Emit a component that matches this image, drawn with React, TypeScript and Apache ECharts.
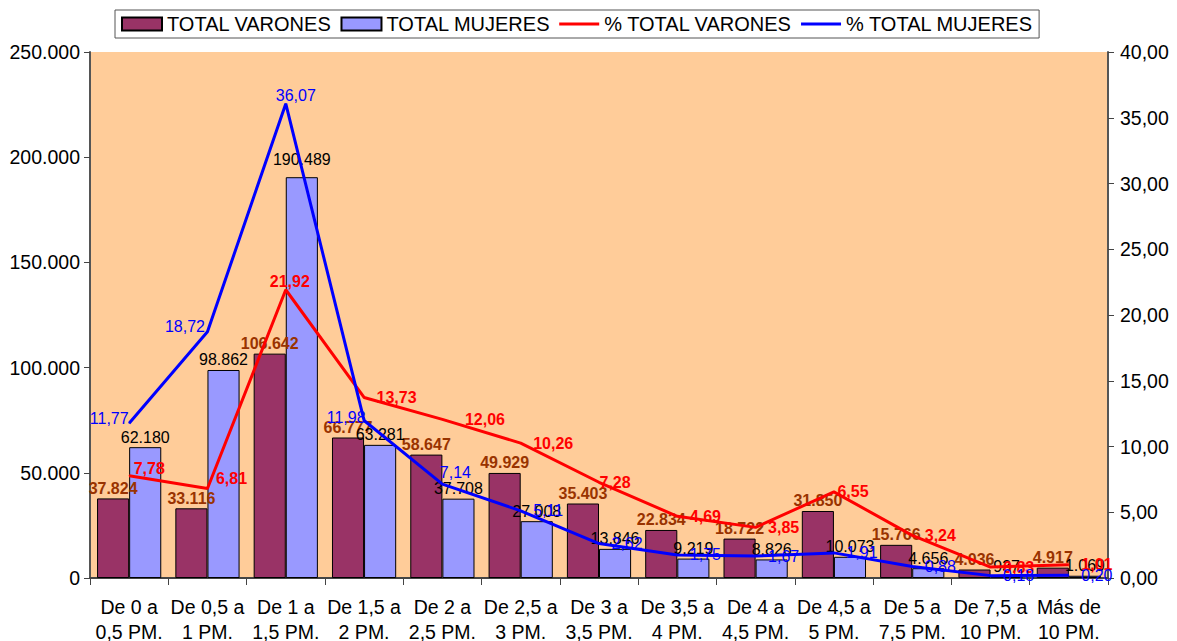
import React, { useEffect, useRef } from "react";
import * as echarts from "echarts";

const categories = [
  "De 0 a\n0,5 PM.", "De 0,5 a\n1 PM.", "De 1 a\n1,5 PM.", "De 1,5 a\n2 PM.",
  "De 2 a\n2,5 PM.", "De 2,5 a\n3 PM.", "De 3 a\n3,5 PM.", "De 3,5 a\n4 PM.",
  "De 4 a\n4,5 PM.", "De 4,5 a\n5 PM.", "De 5 a\n7,5 PM.", "De 7,5 a\n10 PM.",
  "Más de\n10 PM.",
];
const totalVarones = [37824, 33116, 106642, 66777, 58647, 49929, 35403, 22834, 18722, 31850, 15766, 4036, 4917];
const totalMujeres = [62180, 98862, 190489, 63281, 37708, 27008, 13846, 9219, 8826, 10073, 4656, 937, 1069];
const pctVarones = [7.78, 6.81, 21.92, 13.73, 12.06, 10.26, 7.28, 4.69, 3.85, 6.55, 3.24, 0.83, 1.01];
const pctMujeres = [11.77, 18.72, 36.07, 11.98, 7.14, 5.11, 2.62, 1.75, 1.67, 1.91, 0.88, 0.18, 0.2];

const FONT = "'Liberation Sans', Arial, sans-serif";

const fmtThousands = (v: number) =>
  String(Math.round(v)).replace(/\B(?=(\d{3})+(?!\d))/g, ".");
const fmtPct = (v: number) => v.toFixed(2).replace(".", ",");

const LINE_ICON = "path://M0,0 L40,0 L40,3 L0,3 Z";

export default function App() {
  const ref = useRef<HTMLDivElement>(null);
  useEffect(() => {
    if (!ref.current) return;
    const chart = echarts.init(ref.current, null, { renderer: "svg" });

    const redOverrides: Record<number, any> = {
      0: { position: "right", distance: 4, offset: [0, -7] },
      1: { position: "right", distance: 8, offset: [0, -10] },
      2: { position: "top", distance: 0, offset: [4, 0] },
      4: { position: "right", distance: 22 },
      6: { position: "right", distance: 0 },
      9: { position: "right", distance: 3 },
    };
    const blueOverrides: Record<number, any> = {
      0: { position: "left", distance: 0, offset: [0, -5] },
      1: { position: "left", distance: 2, offset: [0, -5] },
      2: { position: "top", distance: 0, offset: [10, 0] },
      3: { position: "left", distance: 0, offset: [2, -3] },
      4: { position: "top", distance: 3, offset: [13, 0] },
    };
    const mujeresBarOverrides: Record<number, any> = {
      2: { offset: [0, -8] },
    };

    chart.setOption({
      animation: false,
      backgroundColor: "#ffffff",
      textStyle: { fontFamily: FONT },
      legend: {
        left: 115,
        top: 10,
        padding: [4, 6, 4, 6],
        itemGap: 9,
        itemWidth: 40,
        itemHeight: 13,
        borderColor: "#555",
        borderWidth: 1,
        textStyle: { fontSize: 20, color: "#000", fontFamily: FONT },
        data: [
          { name: "TOTAL VARONES", icon: "rect" },
          { name: "TOTAL MUJERES", icon: "rect" },
          { name: "% TOTAL VARONES", icon: LINE_ICON, itemStyle: { borderWidth: 0 } },
          { name: "% TOTAL MUJERES", icon: LINE_ICON, itemStyle: { borderWidth: 0 } },
        ],
      },
      grid: {
        left: 90,
        right: 69,
        top: 52,
        bottom: 63,
        show: true,
        backgroundColor: "#FFCC99",
        borderWidth: 0,
        containLabel: false,
        outerBoundsMode: "none",
      },
      xAxis: {
        type: "category",
        data: categories,
        axisLine: { lineStyle: { color: "#444", width: 2 } },
        axisTick: { show: true, length: 7, lineStyle: { color: "#444" }, alignWithLabel: false },
        axisLabel: { fontSize: 19.5, color: "#000", lineHeight: 25, margin: 16, interval: 0, fontFamily: FONT },
      },
      yAxis: [
        {
          type: "value",
          min: 0,
          max: 250000,
          interval: 50000,
          axisLine: { show: true, lineStyle: { color: "#555", width: 2 } },
          axisTick: { show: true, length: 6, lineStyle: { color: "#444" } },
          splitLine: { show: false },
          axisLabel: { fontSize: 19.5, color: "#000", margin: 10, formatter: (v: number) => fmtThousands(v), fontFamily: FONT },
        },
        {
          type: "value",
          min: 0,
          max: 40,
          interval: 5,
          position: "right",
          axisLine: { show: true, lineStyle: { color: "#555", width: 2 } },
          axisTick: { show: true, length: 6, lineStyle: { color: "#444" } },
          splitLine: { show: false },
          axisLabel: { fontSize: 19.5, color: "#000", margin: 12, formatter: (v: number) => fmtPct(v), fontFamily: FONT },
        },
      ],
      series: [
        {
          name: "TOTAL VARONES",
          type: "bar",
          data: totalVarones,
          barGap: "0%",
          barCategoryGap: "18%",
          itemStyle: { color: "#993366", borderColor: "#000", borderWidth: 1 },
          label: {
            show: true,
            position: "top",
            distance: 2,
            color: "#993300",
            fontWeight: "bold",
            fontSize: 16,
            fontFamily: FONT,
            formatter: (p: any) => fmtThousands(p.value),
          },
          z: 2,
        },
        {
          name: "TOTAL MUJERES",
          type: "bar",
          data: totalMujeres.map((v, i) => ({ value: v, label: mujeresBarOverrides[i] || {} })),
          barGap: "0%",
          barCategoryGap: "18%",
          itemStyle: { color: "#9999FF", borderColor: "#000", borderWidth: 1 },
          label: {
            show: true,
            position: "top",
            distance: 2,
            color: "#000",
            fontSize: 16,
            fontFamily: FONT,
            formatter: (p: any) => fmtThousands(p.value),
          },
          z: 2,
        },
        {
          name: "% TOTAL VARONES",
          type: "line",
          yAxisIndex: 1,
          symbol: "circle",
          symbolSize: 1,
          lineStyle: { color: "#FF0000", width: 3 },
          itemStyle: { color: "#FF0000" },
          data: pctVarones.map((v, i) => ({ value: v, label: redOverrides[i] || {} })),
          label: {
            show: true,
            position: "right",
            distance: 12,
            color: "#FF0000",
            fontWeight: "bold",
            fontSize: 16,
            fontFamily: FONT,
            formatter: (p: any) => fmtPct(p.value),
          },
          z: 3,
        },
        {
          name: "% TOTAL MUJERES",
          type: "line",
          yAxisIndex: 1,
          symbol: "circle",
          symbolSize: 1,
          lineStyle: { color: "#0000FF", width: 3 },
          itemStyle: { color: "#0000FF" },
          data: pctMujeres.map((v, i) => ({ value: v, label: blueOverrides[i] || {} })),
          label: {
            show: true,
            position: "right",
            distance: 12,
            color: "#0000FF",
            fontSize: 16,
            fontFamily: FONT,
            formatter: (p: any) => fmtPct(p.value),
          },
          z: 4,
        },
      ],
    });
    return () => chart.dispose();
  }, []);
  return <div ref={ref} style={{ position: "absolute", left: 0, top: 0, width: 1177, height: 641 }} />;
}
